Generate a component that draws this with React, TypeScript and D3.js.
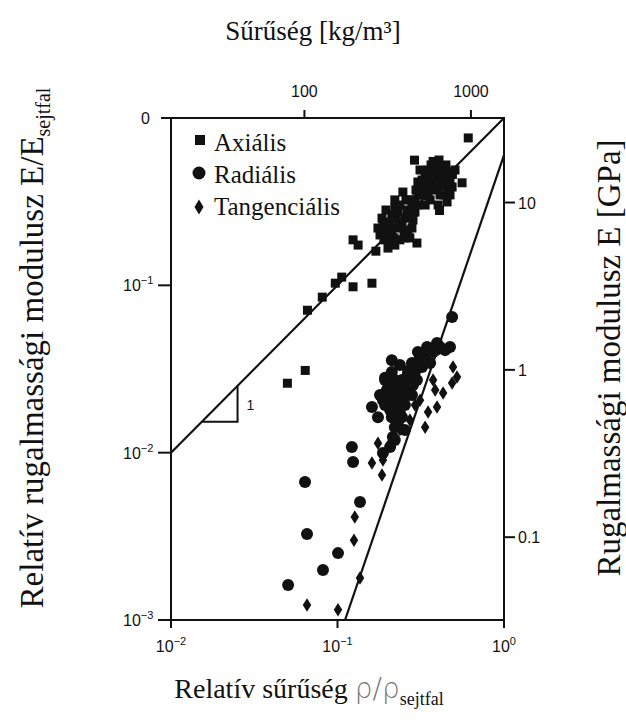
import React from "react";
import * as d3 from "d3";

// Relative density (rho/rho_s) and relative modulus (E/E_s)
const axialRho = [0.61, 0.050, 0.064, 0.066, 0.081, 0.097, 0.106, 0.124, 0.161, 0.124, 0.133, 0.30, 0.41, 0.56, 0.49, 0.29, 0.375,
  0.180, 0.193, 0.207, 0.212, 0.231, 0.237, 0.254, 0.254, 0.272, 0.280, 0.201, 0.185, 0.221, 0.247, 0.292,
  0.304, 0.322, 0.336, 0.350, 0.370, 0.391, 0.413, 0.425, 0.443, 0.461, 0.402, 0.313, 0.345, 0.474, 0.375, 0.313, 0.17,
  0.175, 0.190, 0.1955, 0.212, 0.2246, 0.237, 0.244, 0.2615, 0.265, 0.284, 0.221, 0.193, 0.231, 0.272, 0.207,
  0.292, 0.304, 0.327, 0.340, 0.360, 0.360, 0.385, 0.396, 0.418, 0.436, 0.448, 0.474, 0.488, 0.336, 0.407, 0.508, 0.296, 0.455,
  0.201, 0.2184, 0.234, 0.2508, 0.2578, 0.280, 0.304, 0.3308, 0.350, 0.375, 0.402, 0.425, 0.4673, 0.280, 0.313, 0.1876, 0.221, 0.3644, 0.448];
const axialE = [0.76, 0.026, 0.031, 0.071, 0.085, 0.103, 0.112, 0.098, 0.103, 0.187, 0.174, 0.179, 0.28, 0.41, 0.46, 0.56, 0.55,
  0.200, 0.229, 0.187, 0.263, 0.220, 0.302, 0.192, 0.252, 0.324, 0.220, 0.167, 0.252, 0.324, 0.361, 0.274,
  0.347, 0.426, 0.302, 0.489, 0.371, 0.438, 0.347, 0.502, 0.398, 0.476, 0.302, 0.489, 0.356, 0.347, 0.456, 0.398, 0.16,
  0.220, 0.187, 0.282, 0.214, 0.252, 0.187, 0.226, 0.282, 0.214, 0.2457, 0.174, 0.208, 0.274, 0.192, 0.239,
  0.324, 0.4145, 0.347, 0.398, 0.438, 0.324, 0.502, 0.3815, 0.438, 0.347, 0.524, 0.426, 0.387, 0.456, 0.561, 0.489, 0.371, 0.315,
  0.200, 0.192, 0.239, 0.208, 0.324, 0.2897, 0.302, 0.3815, 0.342, 0.4088, 0.476, 0.3923, 0.3815, 0.263, 0.347, 0.229, 0.2897, 0.524, 0.450];

const radialRho = [0.488, 0.345, 0.413, 0.474, 0.396, 0.212, 0.280, 0.322, 0.360, 0.261, 0.300, 0.198, 0.228, 0.212, 0.247, 0.228,
  0.161, 0.175, 0.244, 0.221, 0.215, 0.207, 0.1875, 0.122, 0.124, 0.0638, 0.1365, 0.0656, 0.1007, 0.0818, 0.0505,
  0.272, 0.237, 0.1875, 0.272, 0.193,
  0.193, 0.212, 0.237, 0.254, 0.272, 0.292, 0.313, 0.336, 0.375, 0.443, 0.207, 0.228, 0.201, 0.237, 0.231, 0.254, 0.221, 0.304, 0.280, 0.180,
  0.201, 0.221, 0.244, 0.265, 0.284, 0.304, 0.221, 0.254, 0.212, 0.193, 0.350, 0.3905, 0.237];
const radialE = [0.0647, 0.0428, 0.0428, 0.0428, 0.0452, 0.0357, 0.0343, 0.0325, 0.0343, 0.0283, 0.0272, 0.0237, 0.0227, 0.0206, 0.0206, 0.0247,
  0.01875, 0.0163, 0.0163, 0.0142, 0.0124, 0.0108, 0.00995, 0.0108, 0.00879, 0.00667, 0.00507, 0.00327, 0.00251, 0.00199, 0.00162,
  0.0312, 0.0255, 0.0206, 0.0222, 0.028,
  0.0272, 0.0303, 0.0334, 0.0237, 0.0272, 0.0303, 0.0368, 0.0383, 0.0399, 0.0410, 0.01798, 0.0193, 0.0212, 0.01725, 0.01462, 0.01365, 0.0119, 0.0399, 0.0221, 0.0221,
  0.0243, 0.0221, 0.0272, 0.0303, 0.02535, 0.0334, 0.0272, 0.0193, 0.0163, 0.0193, 0.0422, 0.0410, 0.0221];

const tangRho = [0.494, 0.522, 0.488, 0.375, 0.386, 0.431, 0.396, 0.350, 0.336, 0.207, 0.175, 0.1875, 0.161, 0.185, 0.127, 0.1256,
  0.1365, 0.0656, 0.1007, 0.272, 0.292, 0.237, 0.313];
const tangE = [0.0325, 0.0283, 0.0261, 0.0272, 0.0237, 0.0227, 0.01875, 0.0175, 0.0142, 0.0114, 0.0114, 0.00903, 0.00867, 0.00735, 0.00412, 0.00300,
  0.00178, 0.00123, 0.00115, 0.0157, 0.0193, 0.0137, 0.0206];

// Guide lines (rho/rho_s, E/E_s)
const lineAxialRho = [0.01, 1];
const lineAxialE = [0.01, 1];
const lineTransRho = [0.111, 1];
const lineTransE = [0.001, 0.6];
const triRho = [0.0153, 0.0251];

// Ticks
const xTicks = [0.01, 0.1, 1];
const xTickSup = ["−2", "−1", "0"];
const yTicks = [0.001, 0.01, 0.1];
const yTickSup = ["−3", "−2", "−1"];
const topTicks = [100, 1000];
const rightTicks = [0.1, 1, 10];
const rightTickLabels = ["0.1", "1", "10"];

const RHO_S = 1580; // kg/m3
const E_S = 32; // GPa

const legendNames = ["Axiális", "Radiális", "Tangenciális"];

const L = 171, R = 504, T = 118, B = 620;
const SANS = "'Liberation Sans', Arial, sans-serif";
const SERIF = "'Liberation Serif', 'Times New Roman', serif";
const INK = "#111";

function Diamond({ cx, cy, w, h }: { cx: number; cy: number; w: number; h: number }) {
  const d = `M${cx},${cy - h / 2} L${cx + w / 2},${cy} L${cx},${cy + h / 2} L${cx - w / 2},${cy} Z`;
  return <path d={d} fill={INK} />;
}

export default function App() {
  const x = d3.scaleLog().domain([0.01, 1]).range([L, R]);
  const y = d3.scaleLog().domain([0.001, 1]).range([B, T]);
  const xDens = d3.scaleLog().domain([0.01 * RHO_S, RHO_S]).range([L, R]);
  const yMod = d3.scaleLog().domain([0.001 * E_S, E_S]).range([B, T]);
  const line = d3.line<[number, number]>().x((d) => x(d[0])).y((d) => y(d[1]));

  const axialLine = line(lineAxialRho.map((r, i) => [r, lineAxialE[i]] as [number, number]));
  const transLine = line(lineTransRho.map((r, i) => [r, lineTransE[i]] as [number, number]));
  const t0 = x(triRho[0]), t1 = x(triRho[1]);
  const ty0 = y(triRho[0]), ty1 = y(triRho[1]);

  return (
    <svg width={626} height={726} style={{ position: "absolute", left: 0, top: 0, background: "#fff" }}>
      <rect x={0} y={0} width={626} height={726} fill="#fff" />
      {/* Title */}
      <text x={313} y={40} textAnchor="middle" fontFamily={SERIF} fontSize={27} fill={INK}>
        Sűrűség [kg/m³]
      </text>

      {/* frame */}
      <rect x={L} y={T} width={R - L} height={B - T} fill="none" stroke={INK} strokeWidth={2} />

      {/* bottom ticks */}
      {xTicks.map((t, i) => (
        <g key={"xb" + i}>
          <line x1={x(t)} x2={x(t)} y1={B} y2={B + 8} stroke={INK} strokeWidth={2} />
          <text x={x(t)} y={652} textAnchor="middle" fontFamily={SANS} fontSize={16} fill={INK}>
            10<tspan fontSize={11} dy={-7}>{xTickSup[i]}</tspan>
          </text>
        </g>
      ))}
      {/* left ticks */}
      {yTicks.map((t, i) => (
        <g key={"yl" + i}>
          <line x1={L - 13} x2={L} y1={y(t)} y2={y(t)} stroke={INK} strokeWidth={2} />
          <text x={L - 48} y={y(t) + 6} textAnchor="start" fontFamily={SANS} fontSize={16} fill={INK}>
            10<tspan fontSize={11} dy={-7}>{yTickSup[i]}</tspan>
          </text>
        </g>
      ))}
      <line x1={L - 10} x2={L} y1={y(1)} y2={y(1)} stroke={INK} strokeWidth={2} />
      <text x={150} y={y(1) + 6} textAnchor="end" fontFamily={SANS} fontSize={16} fill={INK}>0</text>

      {/* top ticks (density) */}
      {topTicks.map((t, i) => (
        <g key={"xt" + i}>
          <line x1={xDens(t)} x2={xDens(t)} y1={T - 8} y2={T} stroke={INK} strokeWidth={2} />
          <text x={xDens(t)} y={97} textAnchor="middle" fontFamily={SANS} fontSize={16} fill={INK}>{t}</text>
        </g>
      ))}
      {/* right ticks (modulus) */}
      {rightTicks.map((t, i) => (
        <g key={"yr" + i}>
          <line x1={R} x2={R + 11} y1={yMod(t)} y2={yMod(t)} stroke={INK} strokeWidth={2} />
          <text x={R + 14} y={yMod(t) + 6} textAnchor="start" fontFamily={SANS} fontSize={16} fill={INK}>{rightTickLabels[i]}</text>
        </g>
      ))}

      {/* guide lines */}
      <path d={axialLine || ""} fill="none" stroke={INK} strokeWidth={2.2} />
      <path d={transLine || ""} fill="none" stroke={INK} strokeWidth={2.2} />
      <polyline points={`${t0},${ty0} ${t1},${ty0} ${t1},${ty1}`} fill="none" stroke={INK} strokeWidth={2} />
      <text x={t1 + 9} y={(ty0 + ty1) / 2 + 6} fontFamily={SANS} fontSize={14} fill={INK}>1</text>

      {/* data */}
      {axialRho.map((r, i) => (
        <rect key={"a" + i} x={x(r) - 4.5} y={y(axialE[i]) - 4.5} width={9} height={9} fill={INK} />
      ))}
      {radialRho.map((r, i) => (
        <circle key={"r" + i} cx={x(r)} cy={y(radialE[i])} r={6} fill={INK} />
      ))}
      {tangRho.map((r, i) => (
        <Diamond key={"t" + i} cx={x(r)} cy={y(tangE[i])} w={8.5} h={13.5} />
      ))}

      {/* legend */}
      <rect x={195} y={135} width={10} height={10} fill={INK} />
      <circle cx={199} cy={173} r={6.5} fill={INK} />
      <Diamond cx={199} cy={207} w={9} h={15} />
      {legendNames.map((n, i) => (
        <text key={"lg" + i} x={214} y={151 + i * 32} fontFamily={SERIF} fontSize={25} fill={INK}>{n}</text>
      ))}

      {/* axis labels */}
      <text x={309} y={698} textAnchor="middle" fontFamily={SERIF} fontSize={28} fill={INK}>
        Relatív sűrűség <tspan fontFamily="'DejaVu Sans', sans-serif" fill="#777" fontWeight={300}>ρ/ρ</tspan>
        <tspan fontSize={18} dy={7}>sejtfal</tspan>
      </text>
      <text transform="translate(43,348) rotate(-90)" textAnchor="middle" fontFamily={SERIF} fontSize={33} fill={INK}>
        Relatív rugalmassági modulusz E/E<tspan fontSize={20} dy={7}>sejtfal</tspan>
      </text>
      <text transform="translate(620,358) rotate(-90)" textAnchor="middle" fontFamily={SERIF} fontSize={33} fill={INK}>
        Rugalmassági modulusz E [GPa]
      </text>
    </svg>
  );
}
